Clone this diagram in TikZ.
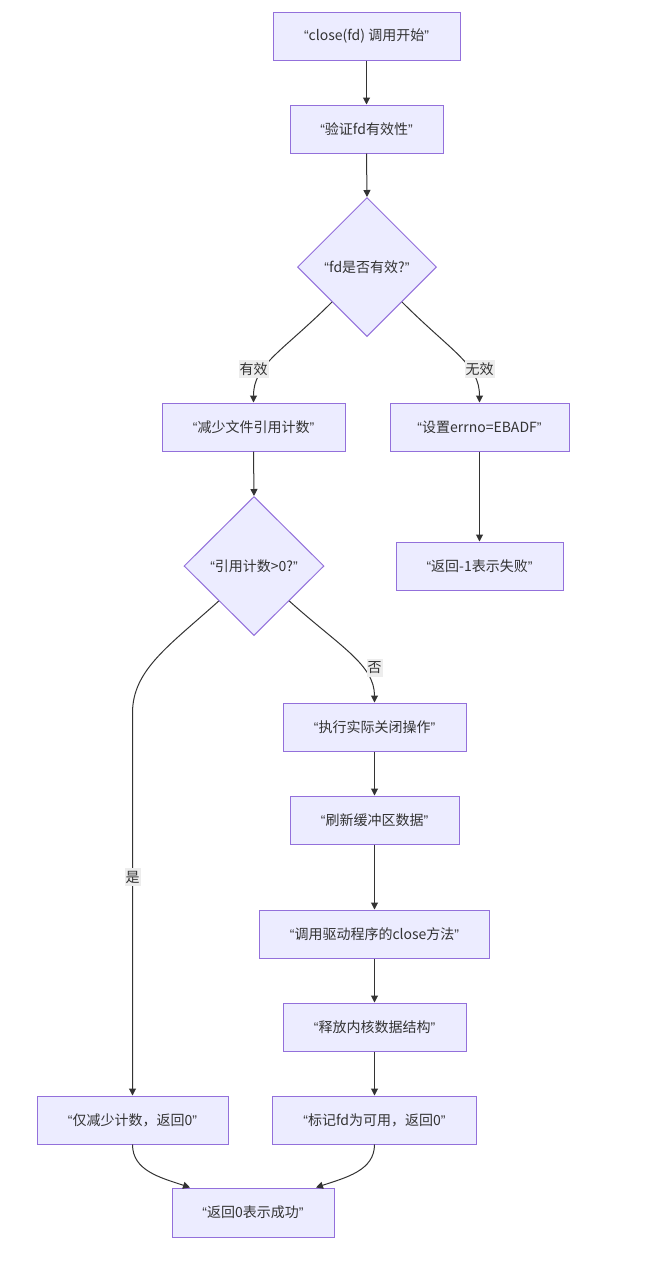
\documentclass[tikz,border=0pt]{standalone}
\usepackage{fontspec}
\setmainfont{Noto Sans CJK SC}
\newfontfamily\lat{Liberation Sans}
\usetikzlibrary{shapes.geometric,arrows.meta,calc}
\definecolor{nodefill}{HTML}{ECECFF}
\definecolor{nodeline}{HTML}{9370DB}
\definecolor{txt}{HTML}{333333}
\definecolor{lblbg}{HTML}{EDEDED}
\newcommand{\oq}{{\lat “}}
\newcommand{\cq}{{\lat ”}}
\begin{document}
\begin{tikzpicture}[x=1pt,y=1pt, font=\fontsize{14pt}{17pt}\selectfont, text=txt,
 box/.style={draw=nodeline, fill=nodefill, line width=1pt, minimum height=48pt, inner sep=0pt},
 dia/.style={diamond, draw=nodeline, fill=nodefill, line width=1pt, minimum width=139pt, minimum height=139pt, inner sep=0pt, aspect=1},
 arr/.style={draw=txt, line width=1pt, -{Triangle[length=7pt,width=7pt]}},
 lbl/.style={fill=lblbg, inner xsep=1pt, inner ysep=3pt}]
\useasboundingbox (0,0) rectangle (651,-1280);

\node[box, minimum width=187pt] (start) at (366.5,-36) {\oq close(fd) 调用开始\cq};
\node[box, minimum width=153pt] (verify) at (366.5,-129) {\oq 验证fd有效性\cq};
\node[dia] (fd) at (367,-267) {\oq fd是否有效?\cq};
\node[box, minimum width=183pt] (reduce) at (253.5,-427) {\oq 减少文件引用计数\cq};
\node[box, minimum width=179pt] (seterr) at (479.5,-427) {\oq 设置errno=EBADF\cq};
\node[dia, minimum width=140pt] (rc) at (254,-566) {\oq 引用计数>0?\cq};
\node[box, minimum width=167pt] (fail) at (479.5,-566) {\oq 返回-1表示失败\cq};
\node[box, minimum width=183pt] (exec) at (374.5,-727) {\oq 执行实际关闭操作\cq};
\node[box, minimum width=169pt] (flush) at (374.5,-820) {\oq 刷新缓冲区数据\cq};
\node[box, minimum width=230pt] (driver) at (374.5,-934) {\oq 调用驱动程序的close方法\cq};
\node[box, minimum width=183pt] (release) at (374.5,-1027) {\oq 释放内核数据结构\cq};
\node[box, minimum width=191pt] (only) at (132.5,-1120) {\oq 仅减少计数，返回0\cq};
\node[box, minimum width=204pt] (mark) at (374.5,-1120) {\oq 标记fd为可用，返回0\cq};
\node[box, minimum width=162pt, minimum height=49pt] (success) at (253,-1212.5) {\oq 返回0表示成功\cq};

\coordinate (bend1) at (132.5,-713);

\draw[arr] (start.south) -- (verify.north);
\draw[arr] (verify.south) -- (fd.north);
\draw[arr] (fd.south west) .. controls +(-50,-50) and +(0,38) .. (reduce.north);
\draw[arr] (fd.south east) .. controls +(50,-50) and +(0,38) .. (seterr.north);
\draw[arr] (reduce.south) -- (rc.north);
\draw[arr] (seterr.south) -- (fail.north);
\draw[arr] (rc.south west) .. controls +(-50,-45) and +(0,43) .. (bend1) -- (only.north);
\draw[arr] (rc.south east) .. controls +(50,-45) and +(0,38) .. (exec.north);
\draw[arr] (exec.south) -- (flush.north);
\draw[arr] (flush.south) -- (driver.north);
\draw[arr] (driver.south) -- (release.north);
\draw[arr] (release.south) -- (mark.north);
\draw[arr] (only.south) .. controls +(0,-26) and +(-30,10) .. ($(success.north)+(-63,0)$);
\draw[arr] (mark.south) .. controls +(0,-26) and +(30,10) .. ($(success.north)+(63,0)$);

\node[lbl] (lyes1) at (253.5,-369) {有效};
\node[lbl] (lno1) at (479.5,-369) {无效};
\node[lbl] (lno2) at (374.5,-668) {否};
\node[lbl] (lyes2) at (132.5,-877) {是};
\end{tikzpicture}
\end{document}
